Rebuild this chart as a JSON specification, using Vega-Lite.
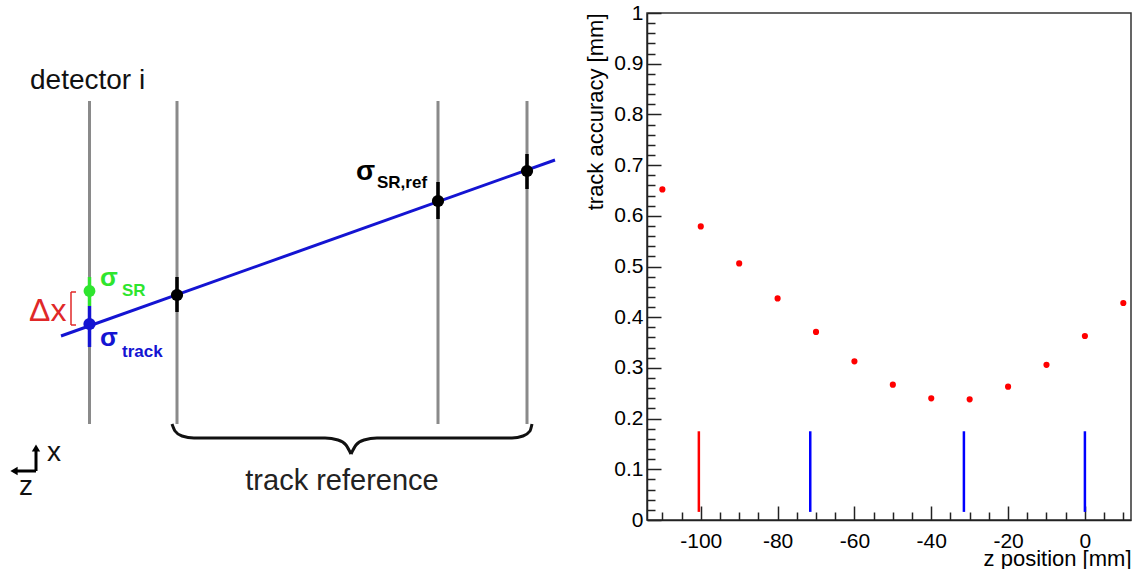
{
  "$schema": "https://vega.github.io/schema/vega-lite/v6.json",
  "padding": {"left": 0, "top": 1, "right": 0, "bottom": 0},
  "background": "white",
  "spacing": 23,
  "config": {"font": "Liberation Sans", "view": {"stroke": "#333", "strokeWidth": 1.5}},
  "datasets": {
    "detectors": [{"h": 89.5, "v": 102, "v2": 425}, {"h": 177, "v": 102, "v2": 425}, {"h": 438, "v": 102, "v2": 425}, {"h": 527, "v": 102, "v2": 425}],
    "track": [{"h": 61, "v": 337}, {"h": 555, "v": 161}],
    "refbars": [{"h": 177, "v": 278, "v2": 313}, {"h": 438, "v": 183, "v2": 220}, {"h": 527, "v": 155, "v2": 190}],
    "refdots": [{"h": 177, "v": 296}, {"h": 438, "v": 202}, {"h": 527, "v": 172}],
    "srbar": [{"h": 89.5, "v": 278, "v2": 307}],
    "trackbar": [{"h": 89.5, "v": 307, "v2": 348}],
    "srdot": [{"h": 89.5, "v": 292}],
    "trackdot": [{"h": 89.5, "v": 325}],
    "bracket": [{"h": 71, "v": 293, "h2": 71, "v2": 326}, {"h": 71, "v": 293, "h2": 76, "v2": 293}, {"h": 71, "v": 326, "h2": 76, "v2": 326}],
    "arrows": [{"h": 36, "v": 472, "h2": 36, "v2": 452}, {"h": 36, "v": 472, "h2": 17, "v2": 472}],
    "arrowup": [{"h": 36, "v": 449}],
    "arrowleft": [{"h": 14, "v": 472}],
    "brace": [
      {"part": "L", "h": 172, "v": 425}, {"part": "L", "h": 175, "v": 432}, {"part": "L", "h": 182, "v": 437}, {"part": "L", "h": 194, "v": 439},
      {"part": "L", "h": 325, "v": 439}, {"part": "L", "h": 338, "v": 441}, {"part": "L", "h": 346, "v": 446}, {"part": "L", "h": 351, "v": 455},
      {"part": "R", "h": 351, "v": 455}, {"part": "R", "h": 356, "v": 446}, {"part": "R", "h": 364, "v": 441}, {"part": "R", "h": 377, "v": 439},
      {"part": "R", "h": 512, "v": 439}, {"part": "R", "h": 523, "v": 437}, {"part": "R", "h": 530, "v": 432}, {"part": "R", "h": 532, "v": 425}
    ],
    "txt_reg": [{"t": "detector i", "h": 30, "v": 90}, {"t": "x", "h": 47, "v": 462}, {"t": "z", "h": 19, "v": 496}],
    "txt_ref": [{"t": "track reference", "h": 342, "v": 491}],
    "txt_dx": [{"t": "Δx", "h": 29, "v": 322}],
    "sig_sr": [{"t": "σ", "h": 100, "v": 287}],
    "sub_sr": [{"t": "SR", "h": 122, "v": 297}],
    "sig_track": [{"t": "σ", "h": 100, "v": 347}],
    "sub_track": [{"t": "track", "h": 122, "v": 358}],
    "sig_ref": [{"t": "σ", "h": 356, "v": 181}],
    "sub_ref": [{"t": "SR,ref", "h": 377, "v": 189}],
    "accuracy": [
      {"z": -110, "acc": 0.652}, {"z": -100, "acc": 0.579}, {"z": -90, "acc": 0.506}, {"z": -80, "acc": 0.437},
      {"z": -70, "acc": 0.371}, {"z": -60, "acc": 0.313}, {"z": -50, "acc": 0.267}, {"z": -40, "acc": 0.240},
      {"z": -30, "acc": 0.238}, {"z": -20, "acc": 0.263}, {"z": -10, "acc": 0.306}, {"z": 0, "acc": 0.363}, {"z": 10, "acc": 0.428}
    ],
    "redplane": [{"z": -100.5, "acc": 0.016, "hi": 0.175}],
    "blueplanes": [{"z": -71.5, "acc": 0.016, "hi": 0.175}, {"z": -31.5, "acc": 0.016, "hi": 0.175}, {"z": 0, "acc": 0.016, "hi": 0.175}]
  },
  "hconcat": [
    {
      "width": 560,
      "height": 555,
      "view": {"stroke": null},
      "encoding": {
        "x": {"field": "h", "type": "quantitative", "scale": {"domain": [0, 560], "nice": false, "zero": false}, "axis": null},
        "y": {"field": "v", "type": "quantitative", "scale": {"domain": [14, 569], "reverse": true, "nice": false, "zero": false}, "axis": null}
      },
      "layer": [
        {"data": {"name": "detectors"}, "mark": {"type": "rule", "color": "#8a8a8a", "strokeWidth": 3}, "encoding": {"y2": {"field": "v2"}}},
        {"data": {"name": "track"}, "mark": {"type": "line", "color": "#1414d2", "strokeWidth": 3}, "encoding": {}},
        {"data": {"name": "refbars"}, "mark": {"type": "rule", "color": "#000000", "strokeWidth": 3.5}, "encoding": {"y2": {"field": "v2"}}},
        {"data": {"name": "srbar"}, "mark": {"type": "rule", "color": "#2ee52e", "strokeWidth": 3.5}, "encoding": {"y2": {"field": "v2"}}},
        {"data": {"name": "trackbar"}, "mark": {"type": "rule", "color": "#1414d2", "strokeWidth": 3.5}, "encoding": {"y2": {"field": "v2"}}},
        {"data": {"name": "refdots"}, "mark": {"type": "circle", "color": "#000000", "size": 150, "opacity": 1}},
        {"data": {"name": "srdot"}, "mark": {"type": "circle", "color": "#2ee52e", "size": 140, "opacity": 1}},
        {"data": {"name": "trackdot"}, "mark": {"type": "circle", "color": "#1414d2", "size": 150, "opacity": 1}},
        {"data": {"name": "bracket"}, "mark": {"type": "rule", "color": "#e02828", "strokeWidth": 1.5}, "encoding": {"x2": {"field": "h2"}, "y2": {"field": "v2"}}},
        {"data": {"name": "arrows"}, "mark": {"type": "rule", "color": "#000000", "strokeWidth": 3}, "encoding": {"x2": {"field": "h2"}, "y2": {"field": "v2"}}},
        {"data": {"name": "arrowup"}, "mark": {"type": "point", "shape": "triangle-up", "filled": true, "color": "#000000", "size": 70, "opacity": 1}},
        {"data": {"name": "arrowleft"}, "mark": {"type": "point", "shape": "triangle-left", "filled": true, "color": "#000000", "size": 70, "opacity": 1}},
        {"data": {"name": "brace"}, "mark": {"type": "line", "color": "#111111", "strokeWidth": 3, "interpolate": "monotone"}, "encoding": {"detail": {"field": "part"}}},
        {"data": {"name": "txt_reg"}, "mark": {"type": "text", "align": "left", "baseline": "alphabetic", "fontSize": 28, "color": "#111111"}, "encoding": {"text": {"field": "t"}}},
        {"data": {"name": "txt_ref"}, "mark": {"type": "text", "align": "center", "baseline": "alphabetic", "fontSize": 29, "color": "#222222"}, "encoding": {"text": {"field": "t"}}},
        {"data": {"name": "txt_dx"}, "mark": {"type": "text", "align": "left", "baseline": "alphabetic", "fontSize": 32, "color": "#e02828"}, "encoding": {"text": {"field": "t"}}},
        {"data": {"name": "sig_sr"}, "mark": {"type": "text", "align": "left", "baseline": "alphabetic", "fontSize": 26, "fontWeight": "bold", "color": "#2ee52e"}, "encoding": {"text": {"field": "t"}}},
        {"data": {"name": "sub_sr"}, "mark": {"type": "text", "align": "left", "baseline": "alphabetic", "fontSize": 17, "fontWeight": "bold", "color": "#2ee52e"}, "encoding": {"text": {"field": "t"}}},
        {"data": {"name": "sig_track"}, "mark": {"type": "text", "align": "left", "baseline": "alphabetic", "fontSize": 26, "fontWeight": "bold", "color": "#1414d2"}, "encoding": {"text": {"field": "t"}}},
        {"data": {"name": "sub_track"}, "mark": {"type": "text", "align": "left", "baseline": "alphabetic", "fontSize": 17, "fontWeight": "bold", "color": "#1414d2"}, "encoding": {"text": {"field": "t"}}},
        {"data": {"name": "sig_ref"}, "mark": {"type": "text", "align": "left", "baseline": "alphabetic", "fontSize": 28, "fontWeight": "bold", "color": "#000000"}, "encoding": {"text": {"field": "t"}}},
        {"data": {"name": "sub_ref"}, "mark": {"type": "text", "align": "left", "baseline": "alphabetic", "fontSize": 17, "fontWeight": "bold", "color": "#000000"}, "encoding": {"text": {"field": "t"}}}
      ]
    },
    {
      "width": 484,
      "height": 507,
      "encoding": {
        "x": {
          "field": "z", "type": "quantitative",
          "scale": {"domain": [-114, 12], "nice": false, "zero": false},
          "axis": {
            "title": "z position [mm]",
            "values": [-110, -105, -100, -95, -90, -85, -80, -75, -70, -65, -60, -55, -50, -45, -40, -35, -30, -25, -20, -15, -10, -5, 0, 5, 10],
            "labelExpr": "datum.value % 20 === 0 ? datum.value + '' : ''",
            "tickSize": {"condition": {"test": "datum.value % 20 === 0", "value": -14}, "value": -8},
            "labelPadding": 24,
            "labelFontSize": 21,
            "labelColor": "#000000",
            "labelOverlap": false,
            "labelFlush": false,
            "grid": false,
            "domainColor": "#222222",
            "domainWidth": 1.5,
            "tickColor": "#222222",
            "tickWidth": 1.5,
            "titleFontSize": 22,
            "titleFontWeight": "normal",
            "titleColor": "#000000",
            "titleAnchor": "end",
            "titlePadding": -9
          }
        },
        "y": {
          "field": "acc", "type": "quantitative",
          "scale": {"domain": [0, 1], "nice": false, "zero": false},
          "axis": {
            "title": "track accuracy [mm]",
            "values": [0, 0.02, 0.04, 0.06, 0.08, 0.1, 0.12, 0.14, 0.16, 0.18, 0.2, 0.22, 0.24, 0.26, 0.28, 0.3, 0.32, 0.34, 0.36, 0.38, 0.4, 0.42, 0.44, 0.46, 0.48, 0.5, 0.52, 0.54, 0.56, 0.58, 0.6, 0.62, 0.64, 0.66, 0.68, 0.7, 0.72, 0.74, 0.76, 0.78, 0.8, 0.82, 0.84, 0.86, 0.88, 0.9, 0.92, 0.94, 0.96, 0.98, 1],
            "labelExpr": "abs(datum.value*10 - round(datum.value*10)) < 0.001 ? (round(datum.value*10)/10) + '' : ''",
            "tickSize": {"condition": {"test": "abs(datum.value*10 - round(datum.value*10)) < 0.001", "value": -14}, "value": -8},
            "labelPadding": 18,
            "labelFontSize": 21,
            "labelColor": "#000000",
            "labelOverlap": false,
            "grid": false,
            "domainColor": "#222222",
            "domainWidth": 1.5,
            "tickColor": "#222222",
            "tickWidth": 1.5,
            "titleFontSize": 22,
            "titleFontWeight": "normal",
            "titleColor": "#000000",
            "titleAnchor": "end",
            "titlePadding": 6
          }
        }
      },
      "layer": [
        {
          "data": {"name": "accuracy"},
          "mark": {"type": "circle", "color": "#ff0000", "size": 38, "opacity": 1}
        },
        {
          "data": {"name": "redplane"},
          "mark": {"type": "rule", "color": "#ff0000", "strokeWidth": 2.5},
          "encoding": {"y2": {"field": "hi"}}
        },
        {
          "data": {"name": "blueplanes"},
          "mark": {"type": "rule", "color": "#0000ff", "strokeWidth": 2.5},
          "encoding": {"y2": {"field": "hi"}}
        }
      ]
    }
  ]
}
